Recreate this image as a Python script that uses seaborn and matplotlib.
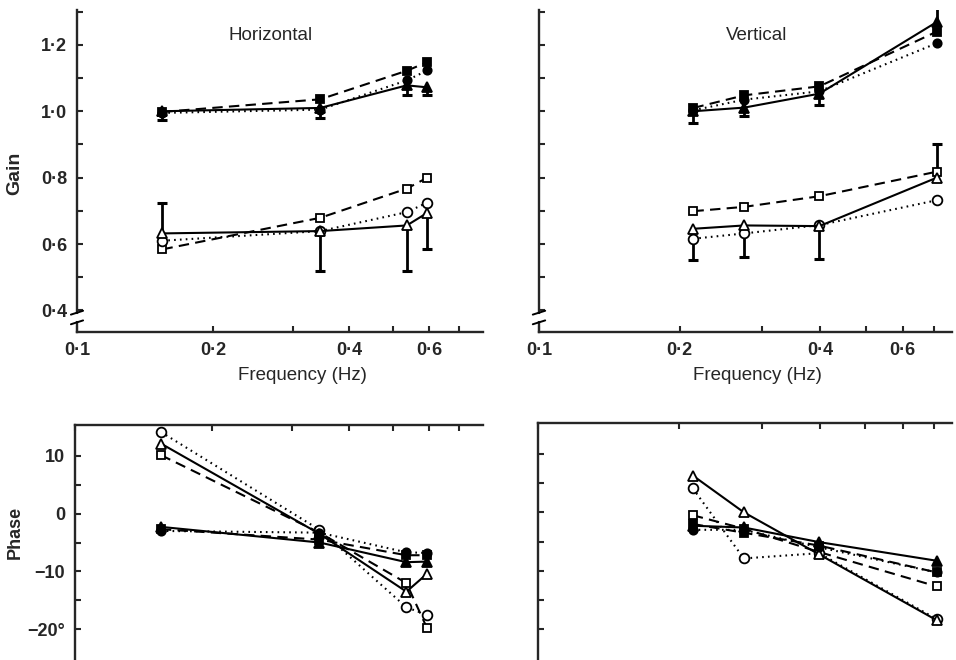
import matplotlib
matplotlib.use("Agg")
import matplotlib.pyplot as plt
from matplotlib.ticker import NullLocator
import pandas as pd
import seaborn as sns

sns.set_theme(style="ticks")
plt.rcParams["font.family"] = ["Liberation Sans", "DejaVu Sans"]

# ---- stimulus frequencies (Hz) ----
h_freq = [0.1545, 0.345, 0.536, 0.595]
v_freq = [0.214, 0.275, 0.398, 0.71]

# ---- gain, horizontal ----
hg_fill_tri = [1.000, 1.010, 1.078, 1.072]
hg_fill_circ = [0.995, 1.005, 1.093, 1.123]
hg_fill_sq = [0.998, 1.036, 1.122, 1.148]
hg_open_tri = [0.632, 0.639, 0.656, 0.694]
hg_open_circ = [0.610, 0.639, 0.696, 0.725]
hg_open_sq = [0.584, 0.679, 0.767, 0.800]
hg_fill_err = [0.973, 0.980, 1.050, 1.050]
hg_open_err = [0.725, 0.520, 0.520, 0.584]

# ---- gain, vertical ----
vg_fill_tri = [1.000, 1.011, 1.053, 1.269]
vg_fill_circ = [1.003, 1.035, 1.060, 1.205]
vg_fill_sq = [1.010, 1.048, 1.075, 1.240]
vg_open_tri = [0.646, 0.656, 0.654, 0.800]
vg_open_circ = [0.616, 0.632, 0.657, 0.732]
vg_open_sq = [0.699, 0.712, 0.744, 0.818]
vg_fill_err = [0.966, 0.985, 1.020, 1.320]
vg_open_err = [0.552, 0.562, 0.554, 0.900]

# ---- phase (deg), horizontal ----
hp_fill_tri = [-2.3, -5.0, -8.4, -8.3]
hp_fill_circ = [-3.0, -3.3, -6.7, -6.8]
hp_fill_sq = [-2.7, -4.5, -7.2, -7.2]
hp_open_tri = [12.1, -3.5, -13.5, -10.4]
hp_open_circ = [14.1, -2.8, -16.2, -17.5]
hp_open_sq = [10.1, -3.3, -12.0, -19.8]

# ---- phase (deg), vertical ----
vp_fill_tri = [-2.3, -2.6, -5.1, -8.3]
vp_fill_circ = [-3.0, -3.0, -6.0, -10.3]
vp_fill_sq = [-2.0, -3.5, -5.7, -10.3]
vp_open_tri = [6.3, 0.0, -7.2, -18.5]
vp_open_circ = [4.1, -7.9, -7.0, -18.3]
vp_open_sq = [-0.5, -2.8, -6.8, -12.7]

freq_ticks = [0.1, 0.2, 0.3, 0.4, 0.5, 0.6, 0.7]
freq_labels = ["0·1", "0·2", "", "0·4", "", "0·6", ""]
gain_ticks = [0.4, 0.5, 0.6, 0.7, 0.8, 0.9, 1.0, 1.1, 1.2, 1.3]
gain_labels = ["0·4", "", "0·6", "", "0·8", "", "1·0", "", "1·2", ""]
phase_ticks = [-20, -15, -10, -5, 0, 5, 10]
phase_labels = ["−20°", "", "−10", "", "0", "", "10"]

DASHED = (0, (5, 3))
DOTTED = (0, (0.8, 2.0))
SERIES_STYLE = {
    "open_sq": dict(marker="s", markerfacecolor="white", linestyle=DASHED, markersize=6),
    "open_circ": dict(marker="o", markerfacecolor="white", linestyle=DOTTED, markersize=7),
    "open_tri": dict(marker="^", markerfacecolor="white", linestyle="-", markersize=7),
    "fill_sq": dict(marker="s", markerfacecolor="black", linestyle=DASHED, markersize=6),
    "fill_circ": dict(marker="o", markerfacecolor="black", linestyle=DOTTED, markersize=6),
    "fill_tri": dict(marker="^", markerfacecolor="black", linestyle="-", markersize=7),
}


def draw_series(ax, freq, groups):
    for name, vals in groups.items():
        df = pd.DataFrame({"freq": freq, "val": vals})
        sns.lineplot(data=df, x="freq", y="val", ax=ax, color="black",
                     linewidth=1.5, markeredgecolor="black", markeredgewidth=1.3,
                     errorbar=None, zorder=4 if name.startswith("fill") else 3,
                     **SERIES_STYLE[name])


def draw_errors(ax, freq, base, ends):
    ax.vlines(freq, base, ends, color="black", linewidth=2.0, zorder=2)
    ax.plot(freq, ends, linestyle="none", marker="_", markersize=7.5,
            markeredgewidth=2.2, color="black", zorder=2)


def style_freq_axis(ax, right):
    ax.set_xscale("log")
    ax.set_xlim(0.1, right)
    ax.set_xticks(freq_ticks)
    ax.xaxis.set_minor_locator(NullLocator())
    ax.set_xlabel("")
    ax.set_ylabel("")


def gain_axes(ax, right, show_labels):
    style_freq_axis(ax, right)
    ax.set_xticklabels(freq_labels)
    ax.set_ylim(0.335, 1.305)
    ax.set_yticks(gain_ticks)
    ax.set_yticklabels(gain_labels if show_labels else [""] * len(gain_ticks))
    for s in ("top", "right"):
        ax.spines[s].set_visible(False)
    for s in ("left", "bottom"):
        ax.spines[s].set_linewidth(1.7)
    ax.tick_params(direction="in", length=4.5, width=1.5, labelsize=13, pad=7)
    for lab in ax.get_xticklabels() + ax.get_yticklabels():
        lab.set_fontweight("bold")
    # axis break marks on the gain scale
    kw = dict(transform=ax.transAxes, color="black", linewidth=1.4, clip_on=False, zorder=6)
    ax.plot([-0.012, 0.012], [0.046, 0.046], color="white", linewidth=5,
            transform=ax.transAxes, clip_on=False, zorder=5, solid_capstyle="butt")
    ax.plot([-0.015, 0.015], [0.024, 0.036], **kw)
    ax.plot([-0.015, 0.015], [0.054, 0.066], **kw)


def phase_axes(ax, right, show_labels):
    style_freq_axis(ax, right)
    ax.xaxis.tick_top()
    ax.set_xticklabels([""] * len(freq_ticks))
    ax.set_ylim(-25.3, 15.3)
    ax.set_yticks(phase_ticks)
    ax.set_yticklabels(phase_labels if show_labels else [""] * len(phase_ticks))
    for s in ("bottom", "right"):
        ax.spines[s].set_visible(False)
    for s in ("left", "top"):
        ax.spines[s].set_linewidth(1.7)
    ax.tick_params(direction="in", length=4.5, width=1.5, labelsize=13, pad=7)
    for lab in ax.get_yticklabels():
        lab.set_fontweight("bold")


fig = plt.figure(figsize=(9.56, 6.6), dpi=100)
W, H = 956, 660
ax_hg = fig.add_axes([77 / W, 1 - 332 / H, 406 / W, 322 / H])
ax_vg = fig.add_axes([539 / W, 1 - 332 / H, 413 / W, 322 / H])
ax_hp = fig.add_axes([75 / W, 0, 408 / W, 235 / H])
ax_vp = fig.add_axes([538 / W, 0, 414 / W, 237 / H])

for ax in (ax_hg, ax_vg, ax_hp, ax_vp):
    ax.set_xscale("log")
    ax.set_facecolor("white")

draw_errors(ax_hg, h_freq, hg_fill_tri, hg_fill_err)
draw_errors(ax_hg, h_freq, hg_open_tri, hg_open_err)
draw_series(ax_hg, h_freq, {"open_sq": hg_open_sq, "open_circ": hg_open_circ,
                            "open_tri": hg_open_tri, "fill_circ": hg_fill_circ,
                            "fill_sq": hg_fill_sq, "fill_tri": hg_fill_tri})

draw_errors(ax_vg, v_freq, vg_fill_tri, vg_fill_err)
draw_errors(ax_vg, v_freq, vg_open_tri, vg_open_err)
draw_series(ax_vg, v_freq, {"open_sq": vg_open_sq, "open_circ": vg_open_circ,
                            "open_tri": vg_open_tri, "fill_circ": vg_fill_circ,
                            "fill_sq": vg_fill_sq, "fill_tri": vg_fill_tri})

draw_series(ax_hp, h_freq, {"open_sq": hp_open_sq, "open_circ": hp_open_circ,
                            "open_tri": hp_open_tri, "fill_circ": hp_fill_circ,
                            "fill_sq": hp_fill_sq, "fill_tri": hp_fill_tri})

draw_series(ax_vp, v_freq, {"open_sq": vp_open_sq, "open_circ": vp_open_circ,
                            "open_tri": vp_open_tri, "fill_circ": vp_fill_circ,
                            "fill_sq": vp_fill_sq, "fill_tri": vp_fill_tri})

gain_axes(ax_hg, 0.79, True)
gain_axes(ax_vg, 0.765, False)
phase_axes(ax_hp, 0.79, True)
phase_axes(ax_vp, 0.765, False)

fig.text(271 / W, 1 - 35 / H, "Horizontal", ha="center", va="center", fontsize=13.5)
fig.text(757 / W, 1 - 35 / H, "Vertical", ha="center", va="center", fontsize=13.5)
fig.text(302 / W, 1 - 375 / H, "Frequency (Hz)", ha="center", va="center", fontsize=13.5)
fig.text(757 / W, 1 - 375 / H, "Frequency (Hz)", ha="center", va="center", fontsize=13.5)
fig.text(15 / W, 1 - 173 / H, "Gain", ha="center", va="center", rotation=90,
         fontsize=14, fontweight="bold")
fig.text(15 / W, 1 - 532 / H, "Phase", ha="center", va="center", rotation=90,
         fontsize=13, fontweight="bold")

fig.savefig("out.png", dpi=100, facecolor="white")
